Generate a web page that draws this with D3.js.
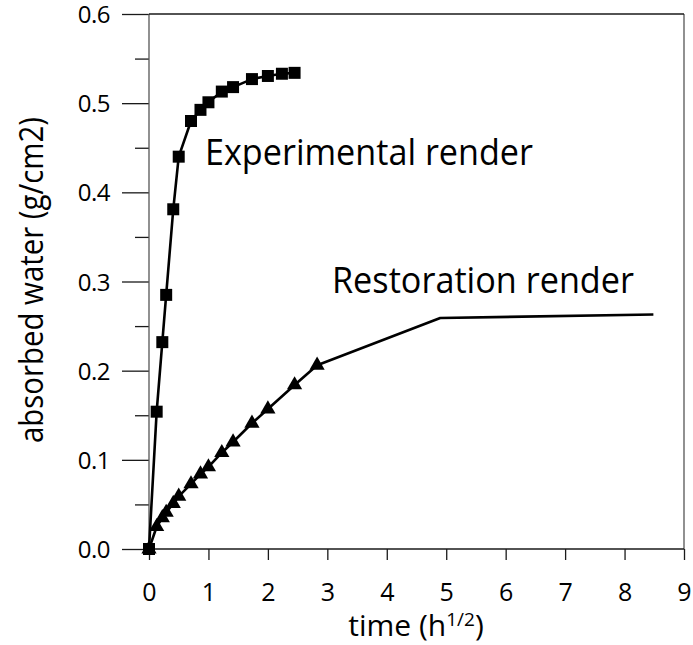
<!DOCTYPE html>
<html><head><meta charset="utf-8">
<script src="https://cdn.jsdelivr.net/npm/d3@7"></script>
<style>
body{margin:0;background:#fff}
text{font-family:"Open Sans",sans-serif;fill:#000}
</style>
</head><body>
<svg id="chart" width="693" height="645"></svg>
<script>
// Experimental render (squares)
const expTime  = [0, 0.129, 0.224, 0.289, 0.408, 0.5, 0.707, 0.866, 1.0, 1.225, 1.414, 1.732, 2.0, 2.236, 2.449];
const expWater = [0, 0.154, 0.232, 0.285, 0.381, 0.440, 0.480, 0.4925, 0.501, 0.513, 0.518, 0.527, 0.5305, 0.533, 0.534];
// Restoration render (triangles; last two points drawn as line only)
const resTime   = [0, 0.129, 0.224, 0.289, 0.408, 0.5, 0.707, 0.866, 1.0, 1.225, 1.414, 1.732, 2.0, 2.449, 2.828, 4.899, 8.485];
const resWater  = [0, 0.025, 0.035, 0.041, 0.051, 0.059, 0.073, 0.084, 0.092, 0.108, 0.120, 0.141, 0.157, 0.184, 0.206, 0.259, 0.263];
const resMarked = [true,true,true,true,true,true,true,true,true,true,true,true,true,true,true,false,false];

const xTicks = [0,1,2,3,4,5,6,7,8,9];
const yTicks = [0,0.1,0.2,0.3,0.4,0.5,0.6];
const yMinorTicks = [0.05,0.15,0.25,0.35,0.45,0.55];
const xTitle = ["time (h", "1/2", ")"];
const yTitle = "absorbed water (g/cm2)";
const labelExp = "Experimental render";
const labelRes = "Restoration render";

const svg = d3.select("#chart");
const x = d3.scaleLinear().domain([0,9]).range([149,684]);
const y = d3.scaleLinear().domain([0,0.6]).range([549,14]);

const axisColor = "#1a1a1a";

// Y axis major
const gy = svg.append("g").attr("transform","translate(149,0)")
  .call(d3.axisLeft(y).tickValues(yTicks).tickFormat(d3.format(".1f")).tickSize(27).tickPadding(12));
gy.select(".domain").remove();
gy.selectAll("line").attr("stroke",axisColor).attr("stroke-width",1.3);
gy.selectAll("text").attr("font-size",24).attr("letter-spacing",-0.5).attr("dy","0.36em");
// Y minor
const gym = svg.append("g").attr("transform","translate(149,0)")
  .call(d3.axisLeft(y).tickValues(yMinorTicks).tickFormat("").tickSize(14));
gym.select(".domain").remove();
gym.selectAll("line").attr("stroke",axisColor).attr("stroke-width",1.3);

// X axis
const gx = svg.append("g").attr("transform","translate(0,549)")
  .call(d3.axisBottom(x).tickValues(xTicks).tickSize(11).tickPadding(10));
gx.select(".domain").remove();
gx.selectAll("line").attr("stroke",axisColor).attr("stroke-width",1.3);
gx.selectAll("text").attr("dy",null).attr("y",52).attr("font-size",25);

// Frame
svg.append("line").attr("x1",x(0)).attr("x2",x(0)).attr("y1",y(0.6)).attr("y2",y(0)).attr("stroke","#555").attr("stroke-width",1.3);
svg.append("line").attr("x1",x(9)).attr("x2",x(9)).attr("y1",y(0.6)).attr("y2",y(0)).attr("stroke","#555").attr("stroke-width",1.3);
svg.append("line").attr("x1",x(0)).attr("x2",x(9)).attr("y1",y(0.6)).attr("y2",y(0.6)).attr("stroke",axisColor).attr("stroke-width",1.3);
svg.append("line").attr("x1",x(0)).attr("x2",x(9)).attr("y1",y(0)).attr("y2",y(0)).attr("stroke",axisColor).attr("stroke-width",1.5);

// Data
const expData = expTime.map((t,i)=>({t, w:expWater[i]}));
const resData = resTime.map((t,i)=>({t, w:resWater[i], m:resMarked[i]}));
const line = d3.line().x(d=>x(d.t)).y(d=>y(d.w));

svg.append("path").datum(resData).attr("d",line).attr("fill","none").attr("stroke","#000").attr("stroke-width",2.6).attr("stroke-linejoin","round");
svg.append("path").datum(expData).attr("d",line).attr("fill","none").attr("stroke","#000").attr("stroke-width",2.6).attr("stroke-linejoin","round");

svg.append("g").selectAll("path").data(resData.filter(d=>d.m)).join("path")
  .attr("transform",d=>`translate(${x(d.t)},${y(d.w)})`)
  .attr("d",d3.symbol().type(d3.symbolTriangle).size(100))
  .attr("fill","#000");
svg.append("g").selectAll("path").data(expData).join("path")
  .attr("transform",d=>`translate(${x(d.t)},${y(d.w)})`)
  .attr("d",d3.symbol().type(d3.symbolSquare).size(144))
  .attr("fill","#000");

// Annotations
svg.append("text").attr("x",205).attr("y",165).attr("font-size",37)
  .attr("textLength",328).attr("lengthAdjust","spacingAndGlyphs").text(labelExp);
svg.append("text").attr("x",332).attr("y",293).attr("font-size",37)
  .attr("textLength",302).attr("lengthAdjust","spacingAndGlyphs").text(labelRes);

// Axis titles
const xt = svg.append("text").attr("x",416).attr("y",636).attr("text-anchor","middle").attr("font-size",30);
xt.append("tspan").text(xTitle[0]);
xt.append("tspan").attr("font-size",19).attr("dy",-10).text(xTitle[1]);
xt.append("tspan").attr("dy",10).text(xTitle[2]);

svg.append("text").attr("transform","translate(43,280) rotate(-90)").attr("text-anchor","middle")
  .attr("font-size",32).attr("textLength",326).attr("lengthAdjust","spacingAndGlyphs").text(yTitle);
</script>
</body></html>
